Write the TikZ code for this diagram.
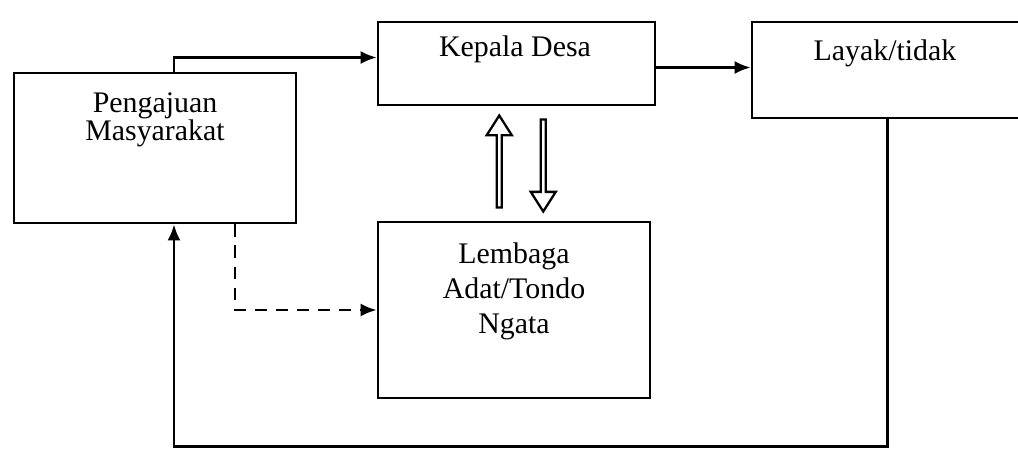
\documentclass[tikz,border=0pt]{standalone}
\usepackage{fontspec}
\setmainfont{Liberation Serif}
\usetikzlibrary{positioning,arrows.meta,calc,shapes.arrows}

\begin{document}
\begin{tikzpicture}[>={Latex[length=3.2mm,width=2.6mm]},line width=1.5pt,font=\fontsize{17}{20}\selectfont,
  box/.style={draw,inner sep=0pt},
  hollow/.style={draw,line width=1.3pt,single arrow,single arrow head extend=0.09cm,single arrow tip angle=65,minimum width=0.5cm,minimum height=1.84cm,inner sep=0pt}]
  \useasboundingbox (0,0) rectangle (20.36,-9.0);
  \node[box,minimum width=5.64cm,minimum height=3.0cm] (pm) at (3.10,-2.96) {};
  \node[align=center] (pmt) at (3.10,-2.40) {Pengajuan\\[-4pt]Masyarakat};
  \node[box,minimum width=5.54cm,minimum height=1.66cm] (kd) at (10.33,-1.27) {};
  \node (kdt) at (10.30,-0.98) {Kepala Desa};
  \node[box,minimum width=5.41cm,minimum height=1.92cm] (ly) at (17.745,-1.40) {};
  \node (lyt) at (17.70,-1.06) {Layak/tidak};
  \node[box,minimum width=5.44cm,minimum height=3.52cm] (lem) at (10.28,-6.20) {};
  \node[align=center] (lemt) at (10.28,-5.82) {Lembaga\\Adat/Tondo\\Ngata};
  \node[hollow,rotate=90] (up) at ($(lem.north)!0.5!(kd.south)+(-0.32,0)$) {};
  \node[hollow,rotate=-90] (dn) at ($(lem.north)!0.5!(kd.south)+(0.56,0)$) {};
  \draw[->] ($(pm.north)+(0.38,0)$) |- ($(kd.west)+(0,0.12)$);
  \draw[->] ($(kd.east)+(0,-0.08)$) -- ($(kd.east -| ly.west)+(0,-0.08)$);
  \draw[->] (ly.south) -- ++(0,-6.54) -| ($(pm.south)+(0.38,0)$);
  \draw[->,dash pattern=on 7pt off 5pt] ($(pm.south)+(1.6,0)$) |- (lem.west);
\end{tikzpicture}
\end{document}
